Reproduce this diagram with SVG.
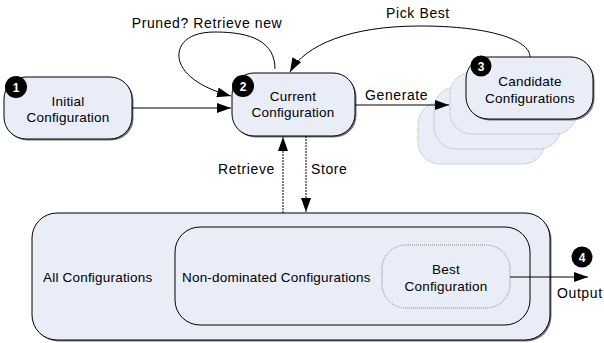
<svg xmlns="http://www.w3.org/2000/svg" width="604" height="343" viewBox="0 0 604 343">
<defs>
<marker id="ahb" viewBox="0 0 14 10" refX="14" refY="5" markerWidth="14" markerHeight="10" markerUnits="userSpaceOnUse" orient="auto"><path d="M0,0 L14,5 L0,10 z" fill="#000"/></marker>
</defs>
<style>
text{font-family:"Liberation Sans",Arial,sans-serif;font-size:13.5px;letter-spacing:0.2px;fill:#000}
.lbl{font-size:14px;letter-spacing:0.6px}
.box{fill:#e8edf7;stroke:#000;stroke-width:1}
.sh{fill:#777;stroke:none}
.shadow{fill:#e8edf7;stroke:#aaa;stroke-width:1;stroke-dasharray:1 1}
.badge circle{fill:#000}
.badge text{fill:#fff;font-weight:bold;font-size:12px;letter-spacing:0;text-anchor:middle}
.edge{fill:none;stroke:#000;stroke-width:1}
.dotted{fill:none;stroke:#000;stroke-width:1;stroke-dasharray:2 1}
</style>
<rect width="604" height="343" fill="#fff"/>

<g id="all-configurations">
<rect class="sh" x="33.5" y="214.5" width="518" height="127" rx="25"/>
<rect class="box" x="32" y="213" width="518" height="127" rx="25"/>
<text x="43" y="282">All Configurations</text>
</g>
<g id="non-dominated">
<rect class="box" x="175" y="227" width="355" height="98" rx="25"/>
<text x="182" y="282">Non-dominated Configurations</text>
</g>
<g id="best-configuration">
<rect class="box" x="382" y="245" width="128" height="63" rx="24" style="stroke:#888;stroke-dasharray:1 1"/>
<text x="446" y="274" text-anchor="middle">Best</text>
<text x="446" y="291" text-anchor="middle">Configuration</text>
</g>

<g id="candidates">
<rect class="shadow" x="418" y="102" width="127" height="62" rx="22"/>
<rect class="shadow" x="434" y="87" width="127" height="62" rx="22"/>
<rect class="shadow" x="450" y="72" width="127" height="62" rx="22"/>
<rect class="sh" x="467.5" y="58.5" width="127" height="62" rx="22"/>
<rect class="box" x="466" y="57" width="127" height="62" rx="22"/>
<text x="530" y="86" text-anchor="middle">Candidate</text>
<text x="530" y="103" text-anchor="middle">Configurations</text>
<g class="badge"><circle cx="481" cy="66" r="10.5"/><text x="481" y="70.5">3</text></g>
</g>

<g id="initial">
<rect class="sh" x="5.5" y="78.5" width="128" height="62" rx="22"/>
<rect class="box" x="4" y="77" width="128" height="62" rx="22"/>
<text x="68" y="106" text-anchor="middle">Initial</text>
<text x="68" y="122" text-anchor="middle">Configuration</text>
<g class="badge"><circle cx="16" cy="87" r="11"/><text x="16" y="91.5">1</text></g>
</g>

<g id="current">
<rect class="sh" x="233.5" y="74.5" width="123" height="63" rx="22"/>
<rect class="box" x="232" y="73" width="123" height="63" rx="22"/>
<text x="293" y="101" text-anchor="middle">Current</text>
<text x="293" y="117" text-anchor="middle">Configuration</text>
<g class="badge"><circle cx="243" cy="86" r="11"/><text x="243" y="90.5">2</text></g>
</g>

<g id="output-badge" class="badge"><circle cx="582" cy="257" r="10.5"/><text x="582" y="261.5">4</text></g>

<g id="connectors">
<path class="edge" d="M132,108 L231,108" marker-end="url(#ahb)"/>
<path class="edge" d="M275,69 C275,42 252,32 215,32 C182,32 176,50 180,62 C186,80 212,91 231,96" marker-end="url(#ahb)"/>
<path class="edge" d="M530,57 C530,40 490,26 420,26 C350,26 305,45 290,72" marker-end="url(#ahb)"/>
<path class="edge" d="M355,105 L449,105" marker-end="url(#ahb)"/>
<path class="dotted" d="M283,213 L283,137" marker-end="url(#ahb)"/>
<path class="dotted" d="M306,136 L306,212" marker-end="url(#ahb)"/>
<path class="edge" d="M510,277 L588,277" marker-end="url(#ahb)"/>
<text class="lbl" x="207" y="28" text-anchor="middle">Pruned? Retrieve new</text>
<text class="lbl" x="418" y="18" text-anchor="middle">Pick Best</text>
<text class="lbl" x="365" y="100">Generate</text>
<text class="lbl" x="218" y="174">Retrieve</text>
<text class="lbl" x="311" y="174">Store</text>
<text class="lbl" x="557" y="298">Output</text>
</g>
</svg>
